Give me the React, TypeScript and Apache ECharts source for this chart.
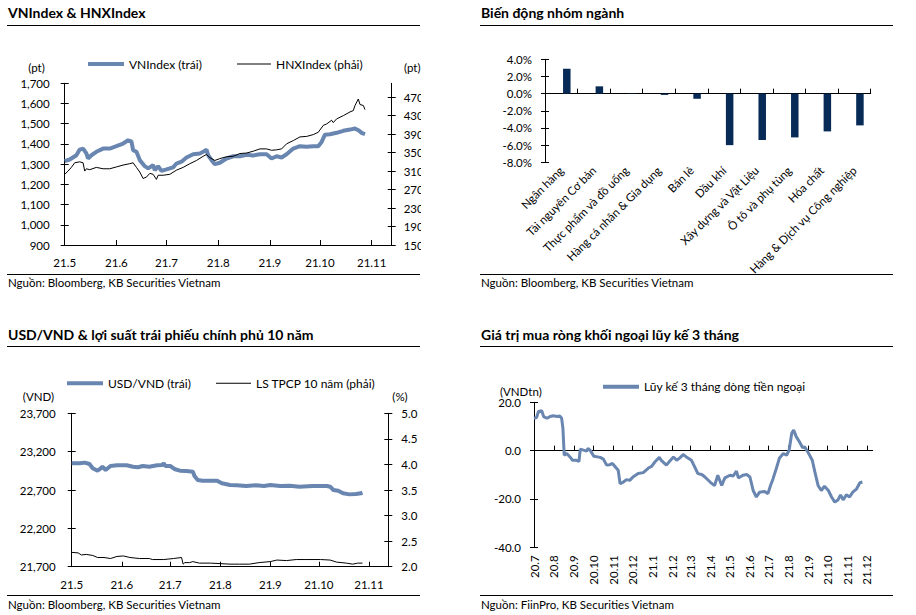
import React, { useEffect, useRef } from 'react';
import * as echarts from 'echarts';

const FONT = 'Lato, "Noto Sans", sans-serif';
const BLUE = '#6986b1';
const NAVY = '#072b56';

// ---------- Panel 1: VNIndex & HNXIndex (x = days since 2021-05-01) ----------
const p1MonthDays = [0, 31, 61, 92, 123, 153, 184];
const p1MonthLabels = ['21.5', '21.6', '21.7', '21.8', '21.9', '21.10', '21.11'];
const vnDays = [0, 3, 7, 9, 11, 13, 14, 16, 19, 23, 27, 31, 35, 38, 40, 41, 43, 45, 48, 50, 53, 54, 56, 58, 61, 65, 67, 70, 73, 77, 81, 83, 85, 86, 88, 90, 93, 97, 101, 105, 109, 113, 117, 121, 124, 127, 130, 133, 137, 141, 145, 149, 152, 154, 156, 159, 163, 167, 171, 174, 176, 178, 180];
const vnValues = [1315, 1323, 1344, 1372, 1377, 1353, 1328, 1344, 1361, 1377, 1377, 1389, 1402, 1418, 1413, 1369, 1361, 1320, 1290, 1279, 1295, 1270, 1290, 1267, 1274, 1284, 1303, 1312, 1333, 1349, 1353, 1361, 1372, 1344, 1320, 1300, 1307, 1328, 1339, 1339, 1346, 1343, 1349, 1349, 1328, 1339, 1333, 1349, 1377, 1389, 1386, 1389, 1389, 1410, 1446, 1448, 1455, 1465, 1471, 1476, 1468, 1455, 1448];
const hnxDays = [0, 2, 4, 6, 9, 11, 12, 13, 15, 19, 23, 27, 31, 35, 39, 41, 43, 45, 47, 49, 51, 53, 55, 56, 59, 63, 67, 71, 75, 79, 83, 85, 87, 90, 93, 97, 101, 105, 109, 113, 117, 121, 124, 127, 130, 133, 137, 141, 145, 149, 152, 155, 157, 160, 161, 163, 167, 171, 173, 174, 176, 177, 179, 180];
const hnxValues = [303, 310, 318, 328, 330, 328, 310, 315, 313, 318, 315, 315, 319, 323, 326, 328, 318, 308, 294, 297, 305, 303, 292, 301, 301, 303, 312, 318, 326, 333, 342, 346, 339, 333, 337, 341, 342, 348, 349, 353, 358, 358, 355, 356, 358, 369, 376, 384, 385, 389, 394, 409, 412, 420, 415, 423, 430, 438, 441, 452, 466, 454, 452, 443];
const vnTicks = [900, 1000, 1100, 1200, 1300, 1400, 1500, 1600, 1700];
const hnxTicks = [150, 190, 230, 270, 310, 350, 390, 430, 470];

// ---------- Panel 2: sector change ----------
const sectors = ['Ngân hàng', 'Tài nguyên Cơ bản', 'Thực phẩm và đồ uống', 'Hàng cá nhân & Gia dụng', 'Bán lẻ', 'Dầu khí', 'Xây dựng và Vật Liệu', 'Ô tô và phụ tùng', 'Hóa chất', 'Hàng & Dịch vụ Công nghiệp'];
const sectorChange = [2.9, 0.85, 0.05, -0.15, -0.6, -6.0, -5.4, -5.1, -4.4, -3.7];
const sectorTicks = [-8, -6, -4, -2, 0, 2, 4];

// ---------- Panel 3: USD/VND & 10Y yield (x = days since 2021-05-01) ----------
const usdDays = [0, 5, 8, 11, 13, 16, 18, 19, 21, 24, 28, 34, 38, 41, 44, 48, 53, 56, 57, 58, 61, 64, 67, 71, 75, 76, 78, 81, 86, 90, 93, 98, 102, 108, 114, 119, 123, 129, 135, 141, 149, 158, 160, 162, 165, 168, 172, 176, 179, 180];
const usdValues = [23048, 23048, 23057, 23039, 22983, 22952, 22983, 23004, 22961, 23013, 23022, 23022, 23004, 22996, 23013, 23004, 23022, 23026, 23048, 23013, 23013, 22970, 22952, 22948, 22939, 22883, 22830, 22822, 22822, 22822, 22787, 22765, 22761, 22752, 22761, 22752, 22765, 22752, 22756, 22743, 22752, 22752, 22743, 22700, 22691, 22657, 22643, 22648, 22657, 22665];
const yieldDays = [0, 4, 6, 9, 13, 16, 20, 24, 28, 32, 36, 42, 48, 50, 57, 63, 68, 69, 70, 73, 75, 79, 86, 92, 98, 104, 110, 116, 123, 127, 133, 139, 145, 154, 160, 164, 170, 174, 177, 180];
const yieldValues = [2.28, 2.27, 2.23, 2.24, 2.22, 2.18, 2.18, 2.16, 2.2, 2.21, 2.18, 2.16, 2.16, 2.14, 2.14, 2.16, 2.18, 2.05, 2.08, 2.08, 2.1, 2.07, 2.07, 2.06, 2.05, 2.05, 2.05, 2.08, 2.1, 2.13, 2.12, 2.14, 2.14, 2.14, 2.13, 2.09, 2.07, 2.05, 2.07, 2.07];
const usdTicks = [21700, 22200, 22700, 23200, 23700];
const yieldTicks = [2, 2.5, 3, 3.5, 4, 4.5, 5];

// ---------- Panel 4: foreign net buy, 3M cumulative (x = days since 2020-07-01) ----------
const p4MonthDays = [0, 31, 62, 92, 123, 153, 184, 215, 243, 274, 304, 335, 365, 396, 427, 457, 488, 518];
const p4MonthLabels = ['20.7', '20.8', '20.9', '20.10', '20.11', '20.12', '21.1', '21.2', '21.3', '21.4', '21.5', '21.6', '21.7', '21.8', '21.9', '21.10', '21.11', '21.12'];
const flowDays = [0, 4, 7, 12, 15, 20, 25, 30, 36, 40, 43, 45, 47, 51, 56, 60, 66, 70, 72, 77, 82, 84, 88, 93, 103, 108, 113, 118, 122, 128, 131, 134, 139, 144, 149, 154, 162, 170, 178, 183, 188, 195, 198, 206, 211, 217, 222, 227, 232, 237, 245, 250, 255, 261, 266, 274, 279, 281, 286, 292, 297, 305, 310, 315, 318, 325, 331, 336, 341, 346, 351, 359, 364, 368, 372, 377, 382, 388, 393, 397, 401, 404, 408, 413, 418, 421, 426, 433, 437, 442, 447, 452, 458, 463, 468, 473, 477, 481, 486, 491, 496, 502, 507, 511];
const flowValues = [13.4, 13.7, 16.2, 16.5, 14.1, 13.4, 14.1, 14.4, 14.1, 14.4, 13.4, 9.2, -1.9, -1.2, -2.6, -4.0, -4.0, -4.4, 0.6, 0.2, -0.2, 0.9, -0.1, -2.3, -2.8, -3.5, -6.0, -5.8, -5.3, -7.2, -8.1, -13.7, -13.0, -12.0, -12.3, -10.9, -9.5, -9.1, -7.2, -6.5, -4.7, -2.8, -4.0, -6.0, -4.4, -2.6, -4.0, -3.0, -1.6, -2.6, -4.0, -6.7, -9.5, -9.9, -10.9, -13.0, -14.1, -14.4, -10.2, -14.4, -11.3, -10.2, -10.5, -8.5, -11.3, -10.2, -9.9, -10.9, -16.5, -19.2, -17.2, -16.9, -17.8, -14.4, -11.6, -7.4, -3.0, -1.2, -1.9, 0.2, 7.2, 8.5, 5.8, 3.7, 1.2, 1.6, -0.5, -4.0, -8.8, -14.4, -16.5, -14.7, -16.5, -19.2, -21.3, -20.4, -18.3, -20.4, -18.3, -19.2, -17.2, -15.8, -13.3, -13.0];
const flowTicks = [-40, -20, 0, 20];

// ---------- helpers ----------
const zip = (xs: number[], ys: number[]) => xs.map((x, i) => [x, ys[i]]);
const FS = 11.5;
const lbl = { fontFamily: FONT, fontSize: FS, color: '#000' };
const black = { color: '#000', width: 1 };

function yPair(position: string, min: number, max: number, values: number[], fmt: (v: number) => string, margin: number) {
  return [
    {
      type: 'value', position, min, max, splitLine: { show: false },
      axisLine: { show: true, onZero: false, lineStyle: black },
      axisTick: { show: true, length: 4, customValues: values, lineStyle: black },
      axisLabel: { show: true, customValues: values, formatter: fmt, margin, ...lbl },
    },
    {
      type: 'value', position, min, max, splitLine: { show: false },
      axisLine: { show: false, onZero: false },
      axisTick: { show: true, inside: true, length: 4, customValues: values, lineStyle: black },
      axisLabel: { show: false },
    },
  ];
}

function monthAxis(max: number, days: number[], labels: string[], margin: number) {
  return {
    type: 'value', min: 0, max, position: 'bottom', splitLine: { show: false },
    axisLine: { show: true, onZero: false, lineStyle: black },
    axisTick: { show: true, inside: true, length: 5, customValues: days, lineStyle: black },
    axisLabel: { show: true, customValues: days, formatter: (v: number) => labels[days.indexOf(v)] ?? '', margin, ...lbl },
  };
}

function txt(x: number, y: number, text: string, align = 'left', size = FS, bold = false) {
  return {
    type: 'text', x, y, silent: true,
    style: { text, fill: '#000', fontFamily: FONT, fontSize: size, fontWeight: bold ? 'bold' : 'normal', textAlign: align, align, textVerticalAlign: 'middle', verticalAlign: 'middle' },
  };
}
function hline(x1: number, x2: number, y: number) {
  return { type: 'line', silent: true, shape: { x1, y1: y, x2, y2: y }, style: { stroke: '#000', lineWidth: 1 } };
}
function legendItem(name: string, left: number, cy: number, w: number, h: number) {
  return {
    data: [name], left, top: cy - 7, padding: 0, icon: 'rect', itemWidth: w, itemHeight: h, itemGap: 5,
    textStyle: { fontFamily: FONT, fontSize: 12, color: '#000', lineHeight: 14 }, selectedMode: false,
  };
}

const comma = (v: number) => v.toLocaleString('en-US');

const option1 = {
  animation: false,
  grid: { left: 64.7, right: 29.3, top: 83.3, bottom: 62, containLabel: false, outerBoundsMode: 'none' },
  legend: [legendItem('VNIndex (trái)', 88, 64, 36, 4), legendItem('HNXIndex (phải)', 237, 64, 34, 1)],
  xAxis: monthAxis(196, p1MonthDays, p1MonthLabels, 11),
  yAxis: [
    ...yPair('left', 900, 1700, vnTicks, comma, 15),
    ...yPair('right', 150, 500, hnxTicks, (v) => String(v), 12),
  ],
  series: [
    { type: 'line', name: 'VNIndex (trái)', yAxisIndex: 0, data: zip(vnDays, vnValues), symbol: 'none', lineStyle: { color: BLUE, width: 4 }, itemStyle: { color: BLUE } },
    { type: 'line', name: 'HNXIndex (phải)', yAxisIndex: 2, data: zip(hnxDays, hnxValues), symbol: 'none', lineStyle: { color: '#000', width: 1 }, itemStyle: { color: '#000' } },
  ],
  graphic: [
    txt(8, 12.5, 'VNIndex & HNXIndex', 'left', 14, true),
    hline(7, 420, 25.5),
    txt(36.5, 67, '(pt)', 'center'),
    txt(404, 67, '(pt)', 'left'),
    hline(7, 420, 274.5),
    txt(8, 282, 'Nguồn: Bloomberg, KB Securities Vietnam'),
  ],
};

const option2 = {
  animation: false,
  grid: { left: 85, right: 45.3, top: 59.3, bottom: 144.7, containLabel: false, outerBoundsMode: 'none' },
  xAxis: [
    {
      type: 'category', data: sectors, position: 'bottom',
      axisLine: { show: true, onZero: true, lineStyle: black },
      axisTick: { show: true, inside: true, length: 5, interval: 0, alignWithLabel: false, lineStyle: black },
      axisLabel: { show: false },
    },
    {
      type: 'category', data: sectors, position: 'bottom',
      axisLine: { show: false, onZero: false }, axisTick: { show: false },
      axisLabel: { show: true, interval: 0, rotate: 45, margin: 6, ...lbl },
    },
  ],
  yAxis: yPair('left', -8, 4, sectorTicks, (v) => v.toFixed(1) + '%', 13),
  series: [
    { type: 'bar', name: 'spacer', data: sectors.map(() => null), barWidth: 7.5, barGap: '47%' },
    { type: 'bar', name: 'Biến động', data: sectorChange, barWidth: 7.5, barGap: '47%', itemStyle: { color: NAVY } },
  ],
  graphic: [
    txt(21, 12.5, 'Biến động nhóm ngành', 'left', 14, true),
    hline(20, 433, 25.5),
    hline(20, 433, 274.5),
    txt(21, 282, 'Nguồn: Bloomberg, KB Securities Vietnam'),
  ],
};

const option3 = {
  animation: false,
  grid: { left: 71.7, right: 32.7, top: 106.3, bottom: 48.3, containLabel: false, outerBoundsMode: 'none' },
  legend: [legendItem('USD/VND (trái)', 67, 76.3, 36, 4), legendItem('LS TPCP 10 năm (phải)', 216, 76.3, 35, 1)],
  xAxis: monthAxis(196, p1MonthDays, p1MonthLabels, 12),
  yAxis: [
    ...yPair('left', 21700, 23700, usdTicks, comma, 16),
    ...yPair('right', 2, 5, yieldTicks, (v) => v.toFixed(1), 13),
  ],
  series: [
    { type: 'line', name: 'USD/VND (trái)', yAxisIndex: 0, data: zip(usdDays, usdValues), symbol: 'none', lineStyle: { color: BLUE, width: 4 }, itemStyle: { color: BLUE } },
    { type: 'line', name: 'LS TPCP 10 năm (phải)', yAxisIndex: 2, data: zip(yieldDays, yieldValues), symbol: 'none', lineStyle: { color: '#000', width: 1 }, itemStyle: { color: '#000' } },
  ],
  graphic: [
    txt(8, 27, 'USD/VND & lợi suất trái phiếu chính phủ 10 năm', 'left', 14, true),
    hline(7, 420, 39.5),
    txt(38.5, 89.7, '(VND)', 'center'),
    txt(400, 89.7, '(%)', 'center'),
    hline(7, 420, 288.5),
    txt(8, 297, 'Nguồn: Bloomberg, KB Securities Vietnam'),
  ],
};

const option4 = {
  animation: false,
  grid: { left: 74, right: 43.3, top: 95.3, bottom: 67.7, containLabel: false, outerBoundsMode: 'none' },
  legend: [legendItem('Lũy kế 3 tháng dòng tiền ngoại', 143, 79.7, 36, 4)],
  xAxis: [
    {
      type: 'value', min: 0, max: 527, position: 'bottom', splitLine: { show: false },
      axisLine: { show: true, onZero: true, lineStyle: black },
      axisTick: { show: true, inside: true, length: 5, customValues: p4MonthDays, lineStyle: black },
      axisLabel: { show: false },
    },
    {
      type: 'value', min: 0, max: 527, position: 'bottom', splitLine: { show: false },
      axisLine: { show: false, onZero: false }, axisTick: { show: false },
      axisLabel: { show: true, customValues: p4MonthDays, rotate: 90, margin: 8, formatter: (v: number) => p4MonthLabels[p4MonthDays.indexOf(v)] ?? '', ...lbl },
    },
  ],
  yAxis: yPair('left', -40, 20, flowTicks, (v) => v.toFixed(1), 13),
  series: [
    { type: 'line', name: 'Lũy kế 3 tháng dòng tiền ngoại', xAxisIndex: 0, yAxisIndex: 0, data: zip(flowDays, flowValues), symbol: 'none', lineStyle: { color: BLUE, width: 3 }, itemStyle: { color: BLUE } },
  ],
  graphic: [
    txt(21, 27, 'Giá trị mua ròng khối ngoại lũy kế 3 tháng', 'left', 14, true),
    hline(20, 433, 39.5),
    txt(60.8, 84, '(VNDtn)', 'center'),
    hline(20, 433, 288.5),
    txt(21, 297, 'Nguồn: FiinPro, KB Securities Vietnam'),
  ],
};

function Panel({ x, y, w, h, option }: { x: number; y: number; w: number; h: number; option: any }) {
  const ref = useRef<HTMLDivElement>(null);
  useEffect(() => {
    const chart = echarts.init(ref.current!, undefined, { renderer: 'svg' });
    chart.setOption(option);
    return () => chart.dispose();
  }, [option]);
  return <div ref={ref} style={{ position: 'absolute', left: x, top: y, width: w, height: h, overflow: 'hidden' }} />;
}

export default function App() {
  return (
    <div style={{ position: 'absolute', left: 0, top: 0, width: 916, height: 615, background: '#fff' }}>
      <Panel x={0} y={0} w={421} h={307} option={option1} />
      <Panel x={460} y={0} w={456} h={307} option={option2} />
      <Panel x={0} y={307} w={421} h={308} option={option3} />
      <Panel x={460} y={307} w={456} h={308} option={option4} />
    </div>
  );
}
